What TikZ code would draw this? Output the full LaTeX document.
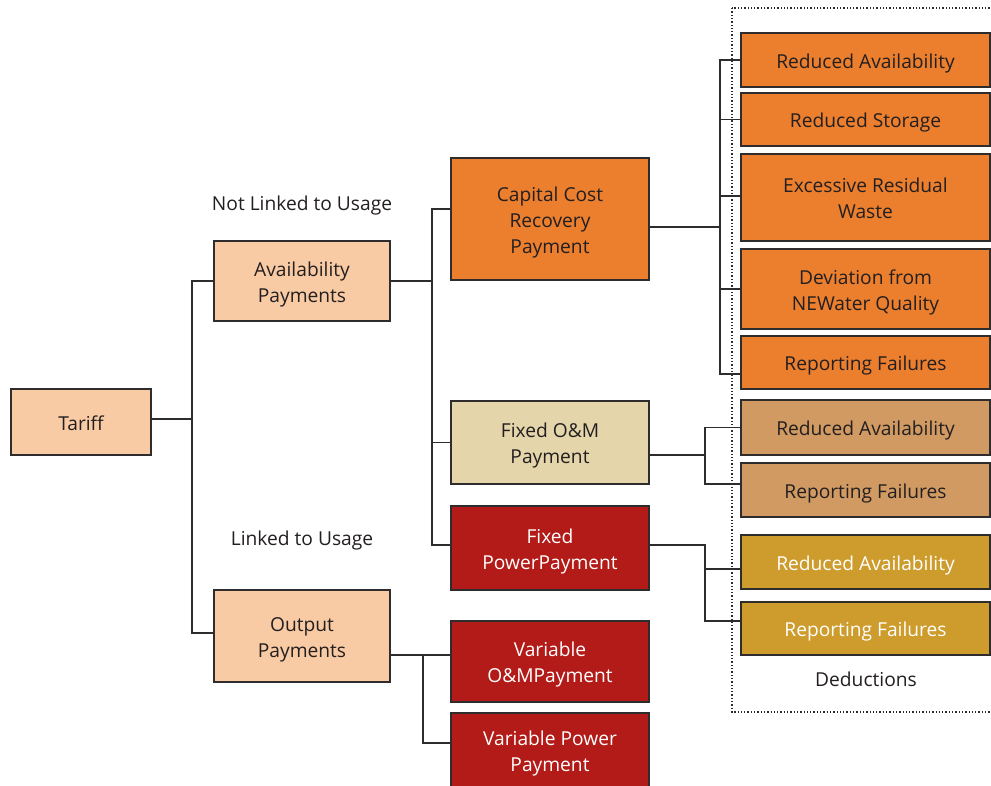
\documentclass[tikz,border=0pt]{standalone}
\usepackage{fontspec}
\setmainfont{Open Sans}
\definecolor{peach}{HTML}{F9CBA4}
\definecolor{orangeb}{HTML}{EB7F2E}
\definecolor{beige}{HTML}{E4D5AA}
\definecolor{darkred}{HTML}{B21B17}
\definecolor{tanb}{HTML}{D19A62}
\definecolor{goldb}{HTML}{CD9C2C}
\definecolor{edge}{HTML}{2E2C2C}
\definecolor{ink}{HTML}{231F20}
\newcommand{\bt}[1]{\raisebox{-3pt}[\height][\depth]{\begin{tabular}{@{}c@{}}#1\end{tabular}}}
\tikzset{
  pbox/.style={draw=edge, line width=1.6pt, inner sep=0pt, align=center, text=ink,
    font=\fontsize{19.2}{26}\selectfont},
  conn/.style={draw=edge, line width=1.4pt},
  lbl/.style={text=ink, font=\fontsize{19.2}{26}\selectfont, inner sep=0pt}
}
\begin{document}
\begin{tikzpicture}[x=1pt,y=-1pt]
\useasboundingbox (0,0) rectangle (991,785);
\clip (0,0) rectangle (991,785);
% deductions frame
\draw[edge, line width=1.3pt, dotted] (732,8) rectangle (1000,712);
% nodes
\node[pbox, fill=peach, minimum width=140pt, minimum height=66pt] (tariff) at (81,422) {\bt{Tariff}};
\node[pbox, fill=peach, minimum width=176pt, minimum height=80pt] (avail) at (302,281) {\bt{Availability\\Payments}};
\node[pbox, fill=peach, minimum width=176pt, minimum height=92pt] (output) at (302,636) {\bt{Output\\Payments}};
\node[pbox, fill=orangeb, minimum width=198pt, minimum height=122pt] (capital) at (550,219) {\bt{Capital Cost\\Recovery\\Payment}};
\node[pbox, fill=beige, minimum width=198pt, minimum height=83pt] (fixom) at (550,442.5) {\bt{Fixed O\&M\\Payment}};
\node[pbox, fill=darkred, text=white, minimum width=198pt, minimum height=84pt] (fixpow) at (550,548) {\bt{Fixed\\PowerPayment}};
\node[pbox, fill=darkred, text=white, minimum width=198pt, minimum height=81pt] (varom) at (550,661.5) {\bt{Variable\\O\&MPayment}};
\node[pbox, fill=darkred, text=white, minimum width=198pt, minimum height=74pt] (varpow) at (550,750) {\bt{Variable Power\\Payment}};
\node[pbox, fill=orangeb, minimum width=249pt, minimum height=54pt] (r1) at (865.5,60) {\bt{Reduced Availability}};
\node[pbox, fill=orangeb, minimum width=249pt, minimum height=53pt] (r2) at (865.5,119.5) {\bt{Reduced Storage}};
\node[pbox, fill=orangeb, minimum width=249pt, minimum height=87pt] (r3) at (865.5,197.5) {\bt{Excessive Residual\\Waste}};
\node[pbox, fill=orangeb, minimum width=249pt, minimum height=80pt] (r4) at (865.5,289) {\bt{Deviation from\\NEWater Quality}};
\node[pbox, fill=orangeb, minimum width=249pt, minimum height=53pt] (r5) at (865.5,362.5) {\bt{Reporting Failures}};
\node[pbox, fill=tanb, minimum width=249pt, minimum height=55pt] (t1) at (865.5,427.5) {\bt{Reduced Availability}};
\node[pbox, fill=tanb, minimum width=249pt, minimum height=54pt] (t2) at (865.5,490) {\bt{Reporting Failures}};
\node[pbox, fill=goldb, text=white, minimum width=249pt, minimum height=54pt] (g1) at (865.5,562) {\bt{Reduced Availability}};
\node[pbox, fill=goldb, text=white, minimum width=249pt, minimum height=53pt] (g2) at (865.5,628.5) {\bt{Reporting Failures}};
% labels
\node[lbl] (nlu) at (302,206) {Not Linked to Usage};
\node[lbl] (lu) at (302,541) {Linked to Usage};
\node[lbl] (ded) at (866,679) {Deductions};
% spines
\coordinate (s1) at (192,0);
\coordinate (s2) at (432,0);
\coordinate (s3) at (720,0);
\coordinate (s4) at (705,0);
\coordinate (s6) at (423,0);
% anchor points
\coordinate (tarout) at ([yshift=3pt]tariff.east);
\coordinate (outin) at ([yshift=3pt]output.west);
\coordinate (capin) at ([yshift=10pt]capital.west);
\coordinate (capout) at ([yshift=-8pt]capital.east);
\coordinate (fpin) at ([yshift=3pt]fixpow.west);
\coordinate (r5in) at ([yshift=-11.5pt]r5.west);
\coordinate (foout) at ([yshift=-12.5pt]fixom.east);
\coordinate (t2in) at ([yshift=6pt]t2.west);
\coordinate (fpout) at ([yshift=3pt]fixpow.east);
\coordinate (g1in) at ([yshift=-7pt]g1.west);
\coordinate (g2in) at ([yshift=7.5pt]g2.west);
\coordinate (opout) at ([yshift=-19pt]output.east);
\coordinate (voin) at ([yshift=6.5pt]varom.west);
\coordinate (vpin) at ([yshift=7pt]varpow.west);
% connectors
\draw[conn] (tarout) -- (tarout -| s1);
\draw[conn] (avail.west) -| (s1 |- outin) -- (outin);
\draw[conn] (avail.east) -- (avail.east -| s2);
\draw[conn] (capin) -| (s2 |- fpin) -- (fpin);
\draw[conn] (fixom.west) -- (fixom.west -| s2);
\draw[conn] (capout) -- (capout -| s3);
\draw[conn] (r1.west) -| (s3 |- r5in) -- (r5in);
\draw[conn] (r2.west) -- (r2.west -| s3);
\draw[conn] ([yshift=1.5pt]r3.west) -- ([yshift=1.5pt]r3.west -| s3);
\draw[conn] (r4.west) -- (r4.west -| s3);
\draw[conn] (foout) -- (foout -| s4);
\draw[conn] (t1.west) -| (s4 |- t2in) -- (t2in);
\draw[conn] (fpout) -| (s4 |- g2in) -- (g2in);
\draw[conn] (g1in) -- (g1in -| s4);
\draw[conn] (opout) -- (voin);
\draw[conn] (opout -| s6) |- (vpin);
\end{tikzpicture}
\end{document}
